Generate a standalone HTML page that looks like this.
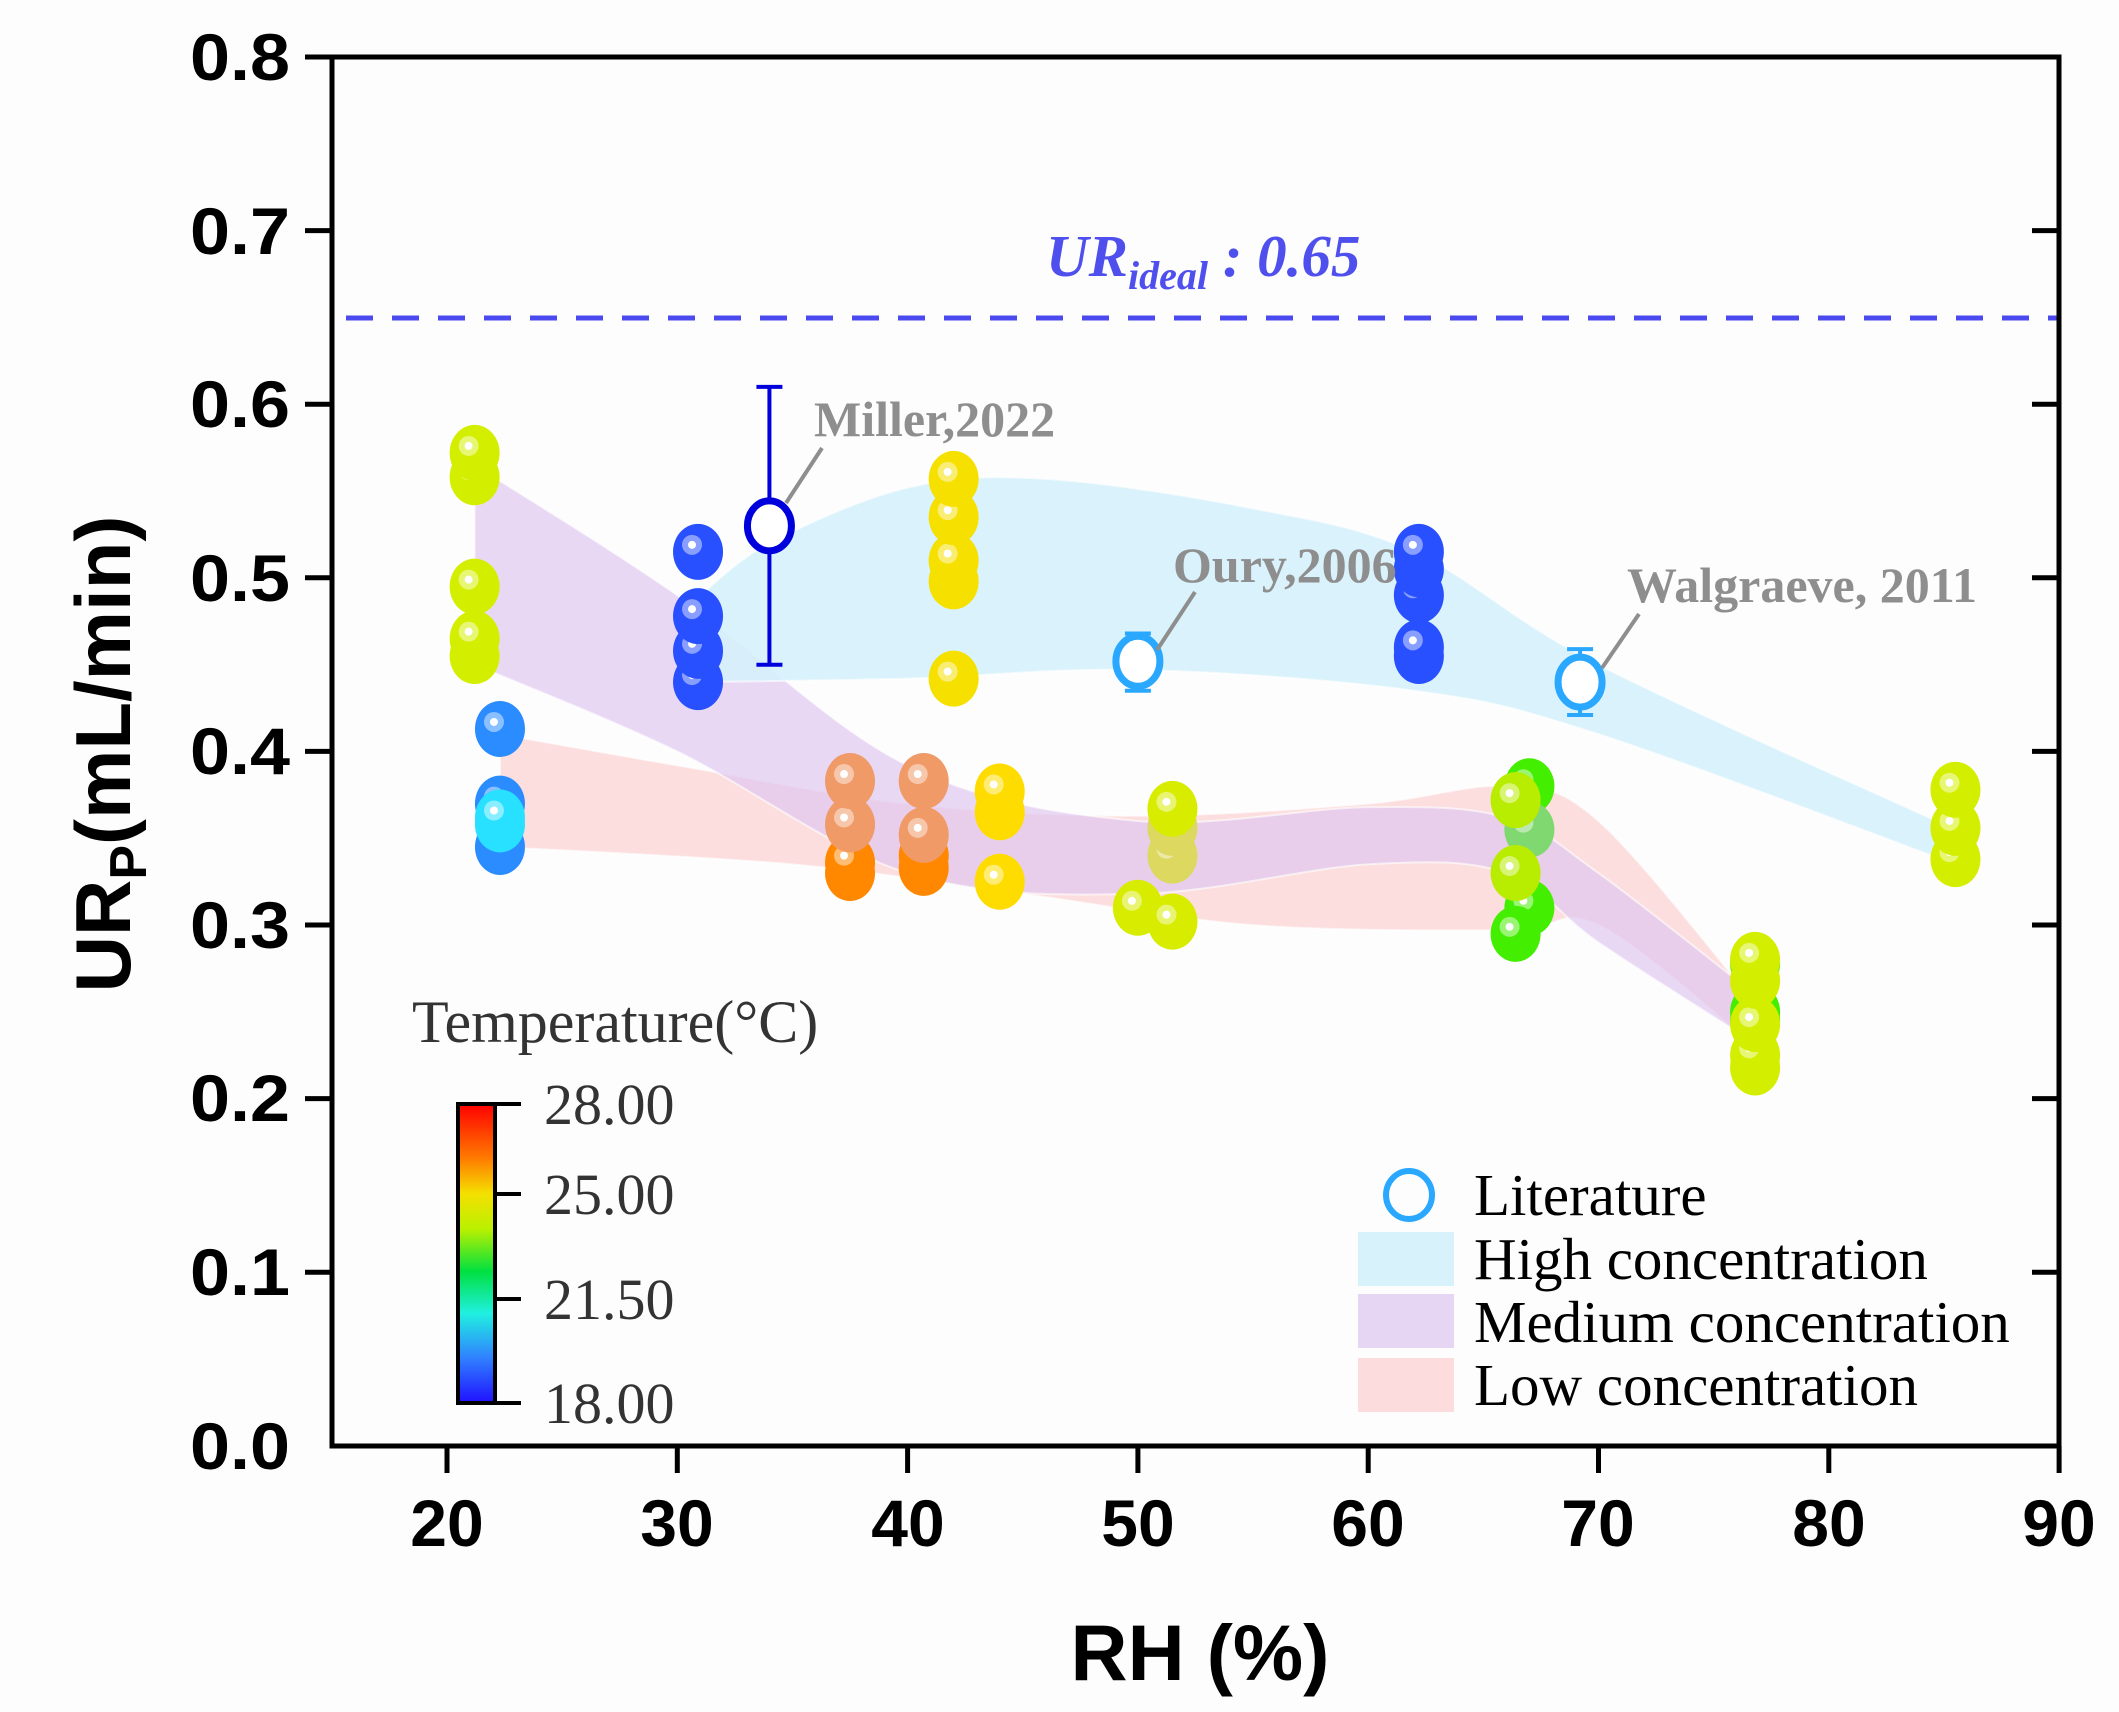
<!DOCTYPE html>
<html><head><meta charset="utf-8"><style>
html,body{margin:0;padding:0;background:#fdfdfd;}
svg{display:block;}
</style></head><body>
<svg id="s" width="2119" height="1712" viewBox="0 0 2119 1712" xmlns="http://www.w3.org/2000/svg">
<defs>
<linearGradient id="cb" x1="0" y1="0" x2="0" y2="1">
<stop offset="0" stop-color="#ff0000"/><stop offset="0.18" stop-color="#ff7a00"/>
<stop offset="0.3" stop-color="#f5e000"/><stop offset="0.42" stop-color="#b8f000"/>
<stop offset="0.56" stop-color="#00e040"/><stop offset="0.7" stop-color="#20f0e0"/>
<stop offset="0.85" stop-color="#3080ff"/><stop offset="1" stop-color="#2010ff"/>
</linearGradient>
</defs>
<rect width="2119" height="1712" fill="#fdfdfd"/>
<g id="bands"></g>
<line x1="346" y1="318" x2="2059" y2="318" stroke="#4a4af0" stroke-width="5" stroke-dasharray="27,19"/>
<g id="err"></g>
<g id="pts"></g>
<g stroke="#000" stroke-width="5" fill="none">
<rect x="332" y="57" width="1727" height="1389"/>
</g>
<g id="ticks" stroke="#000" stroke-width="5"></g>
<g font-family="Liberation Sans, sans-serif" font-weight="bold" font-size="66" text-anchor="end" fill="#000">
<text x="290" y="80" textLength="100" lengthAdjust="spacingAndGlyphs">0.8</text><text x="290" y="254" textLength="100" lengthAdjust="spacingAndGlyphs">0.7</text><text x="290" y="427" textLength="100" lengthAdjust="spacingAndGlyphs">0.6</text>
<text x="290" y="601" textLength="100" lengthAdjust="spacingAndGlyphs">0.5</text><text x="290" y="774" textLength="100" lengthAdjust="spacingAndGlyphs">0.4</text><text x="290" y="948" textLength="100" lengthAdjust="spacingAndGlyphs">0.3</text>
<text x="290" y="1121" textLength="100" lengthAdjust="spacingAndGlyphs">0.2</text><text x="290" y="1295" textLength="100" lengthAdjust="spacingAndGlyphs">0.1</text><text x="290" y="1469" textLength="100" lengthAdjust="spacingAndGlyphs">0.0</text>
</g>
<g font-family="Liberation Sans, sans-serif" font-weight="bold" font-size="66" text-anchor="middle" fill="#000">
<text x="447" y="1546">20</text><text x="677" y="1546">30</text><text x="908" y="1546">40</text>
<text x="1138" y="1546">50</text><text x="1368" y="1546">60</text><text x="1598" y="1546">70</text>
<text x="1829" y="1546">80</text><text x="2059" y="1546">90</text>
<text x="1200" y="1680" font-size="79">RH (%)</text>
</g>
<text transform="translate(130,754) rotate(-90)" font-family="Liberation Sans, sans-serif" font-weight="bold" font-size="78" text-anchor="middle">UR<tspan font-size="52" dy="16">P</tspan><tspan dy="-16">(mL/min)</tspan></text>
<text x="1046" y="276" font-family="Liberation Serif, serif" font-style="italic" font-weight="bold" font-size="59" fill="#4f4fee">UR<tspan font-size="40" dy="13">ideal</tspan><tspan dy="-13"> : 0.65</tspan></text>
<g font-family="Liberation Serif, serif" font-weight="bold" font-size="50" fill="#8e8e8e">
<text x="814" y="436">Miller,2022</text>
<text x="1173" y="582">Oury,2006</text>
<text x="1627" y="602">Walgraeve, 2011</text>
</g>
<g stroke="#8e8e8e" stroke-width="4">
<line x1="786" y1="503" x2="822" y2="448"/>
<line x1="1157" y1="650" x2="1195" y2="592"/>
<line x1="1602" y1="668" x2="1639" y2="614"/>
</g>
<text x="412" y="1042" font-family="Liberation Serif, serif" font-size="60" fill="#333">Temperature(°C)</text>
<rect x="458" y="1104" width="37" height="299" fill="url(#cb)" stroke="#000" stroke-width="4"/>
<g stroke="#000" stroke-width="4">
<line x1="495" y1="1104" x2="521" y2="1104"/><line x1="495" y1="1194" x2="521" y2="1194"/>
<line x1="495" y1="1299" x2="521" y2="1299"/><line x1="495" y1="1403" x2="521" y2="1403"/>
</g>
<g font-family="Liberation Serif, serif" font-size="58" fill="#333">
<text x="544" y="1124">28.00</text><text x="544" y="1214">25.00</text>
<text x="544" y="1319">21.50</text><text x="544" y="1423">18.00</text>
</g>
<ellipse cx="1409" cy="1195" rx="23" ry="24" fill="none" stroke="#2aa8ff" stroke-width="6"/>
<rect x="1358" y="1232" width="96" height="54" fill="#d8f2fb"/>
<rect x="1358" y="1294" width="96" height="54" fill="#e6d6f4"/>
<rect x="1358" y="1358" width="96" height="54" fill="#fcdcdc"/>
<g font-family="Liberation Serif, serif" font-size="59" fill="#000">
<text x="1474" y="1215">Literature</text>
<text x="1474" y="1279">High concentration</text>
<text x="1474" y="1342">Medium concentration</text>
<text x="1474" y="1405">Low concentration</text>
</g>
</svg>
<script>
var NS="http://www.w3.org/2000/svg";
function X(v){return 447+(v-20)*23.03;}
function Y(u){return 1446-u*1736.2;}
function el(p,t,a){var e=document.createElementNS(NS,t);for(var k in a)e.setAttribute(k,a[k]);p.appendChild(e);return e;}
var tk=document.getElementById('ticks');
for(var i=1;i<8;i++){var y=57+i*173.6;el(tk,'line',{x1:305,y1:y,x2:332,y2:y});el(tk,'line',{x1:2032,y1:y,x2:2059,y2:y});}
el(tk,'line',{x1:305,y1:57,x2:332,y2:57});
for(var v=20;v<=90;v+=10){el(tk,'line',{x1:X(v),y1:1446,x2:X(v),y2:1473});}
function cr(pts){var P=pts.map(function(p){return [X(p[0]),Y(p[1])];});var d="M"+P[0][0]+","+P[0][1];
for(var i=0;i<P.length-1;i++){var p0=P[i-1]||P[i],p1=P[i],p2=P[i+1],p3=P[i+2]||P[i+1];
d+=" C"+(p1[0]+(p2[0]-p0[0])/6)+","+(p1[1]+(p2[1]-p0[1])/6)+" "+(p2[0]-(p3[0]-p1[0])/6)+","+(p2[1]-(p3[1]-p1[1])/6)+" "+p2[0]+","+p2[1];}return d;}
function band(up,lo,fill,op){var d=cr(up);var l=cr(lo);d+=" L"+l.slice(1)+" Z";el(document.getElementById('bands'),'path',{d:d,fill:fill,'fill-opacity':op,stroke:'#fff','stroke-width':2,'stroke-opacity':0.6});}
band([[22.3,0.41],[30,0.392],[40,0.37],[50,0.363],[60,0.37],[66,0.38],[70,0.36],[76.8,0.255]],
     [[76.8,0.23],[70,0.3],[66,0.297],[55,0.3],[45,0.318],[35,0.335],[22.3,0.345]],'#fcd8d8',0.85);
band([[21.2,0.565],[30,0.49],[40,0.392],[50,0.36],[60,0.368],[66,0.362],[70,0.33],[76.8,0.26]],
     [[76.8,0.232],[70,0.29],[66,0.33],[60,0.335],[50,0.318],[40,0.33],[30,0.4],[21.2,0.45]],'#e0c8f0',0.7);
band([[31,0.49],[34,0.52],[40,0.552],[46,0.557],[55,0.54],[62,0.515],[70,0.45],[85.5,0.355]],
     [[85.5,0.335],[70,0.41],[62,0.435],[50,0.447],[40,0.442],[31,0.44]],'#d6f1fb',0.9);
var YG='#d4ee00',BL='#2850ff',YE='#f5e000',OR='#ff8800',SA='#f09a68',GR='#44ee00';
var pts=[
[21.2,0.455,YG],[21.2,0.465,YG],[21.2,0.495,YG],[21.2,0.558,YG],[21.2,0.572,YG],
[22.3,0.345,'#2b8cff'],[22.3,0.37,'#2b8cff'],[22.3,0.413,'#2b8cff'],[22.3,0.358,'#28e0ff'],[22.3,0.362,'#28e0ff'],
[30.9,0.44,BL],[30.9,0.458,BL],[30.9,0.478,BL],[30.9,0.515,BL],
[42,0.442,YE],[42,0.498,YE],[42,0.51,YE],[42,0.535,YE],[42,0.557,YE],
[37.5,0.33,OR],[37.5,0.336,OR],[37.5,0.358,SA],[37.5,0.383,SA],
[40.7,0.333,OR],[40.7,0.34,OR],[40.7,0.352,SA],[40.7,0.383,SA],
[44,0.325,'#ffdc00'],[44,0.365,'#ffdc00'],[44,0.377,'#ffdc00'],
[50,0.31,'#d8ec00'],[51.5,0.302,'#d8ec00'],[51.5,0.34,'#dcd860'],[51.5,0.356,'#dcd860'],[51.5,0.367,'#d8ec00'],
[62.2,0.455,BL],[62.2,0.46,BL],[62.2,0.49,BL],[62.2,0.505,BL],[62.2,0.515,BL],
[67,0.38,GR],[67,0.31,GR],[66.4,0.295,GR],[67,0.355,'#80d870'],[66.4,0.33,'#b8ec00'],[66.4,0.372,'#b8ec00'],
[76.8,0.245,GR],[76.8,0.25,GR],[76.8,0.278,GR],
[76.8,0.218,YG],[76.8,0.225,YG],[76.8,0.243,YG],[76.8,0.268,YG],[76.8,0.28,YG],
[85.5,0.338,YG],[85.5,0.356,YG],[85.5,0.378,YG]];
var g=document.getElementById('pts');
pts.forEach(function(p){var cx=X(p[0]),cy=Y(p[1]);
el(g,'ellipse',{cx:cx,cy:cy,rx:25,ry:28,fill:p[2]});
el(g,'circle',{cx:cx-6,cy:cy-7,r:10,fill:'#fff','fill-opacity':0.45});
el(g,'circle',{cx:cx-6,cy:cy-7,r:4,fill:'#fff'});});
var eg=document.getElementById('err');
[[34,0.53,0.45,0.61,'#0000dd'],[50,0.452,0.435,0.468,'#2aa8ff'],[69.2,0.44,0.421,0.459,'#2aa8ff']].forEach(function(l){
var x=X(l[0]);el(eg,'line',{x1:x,y1:Y(l[2]),x2:x,y2:Y(l[3]),stroke:l[4],'stroke-width':4});
el(eg,'line',{x1:x-13,y1:Y(l[2]),x2:x+13,y2:Y(l[2]),stroke:l[4],'stroke-width':4});
el(eg,'line',{x1:x-13,y1:Y(l[3]),x2:x+13,y2:Y(l[3]),stroke:l[4],'stroke-width':4});
el(eg,'ellipse',{cx:x,cy:Y(l[1]),rx:22,ry:25,fill:'#fff',stroke:l[4],'stroke-width':7});});
</script>
</body></html>
